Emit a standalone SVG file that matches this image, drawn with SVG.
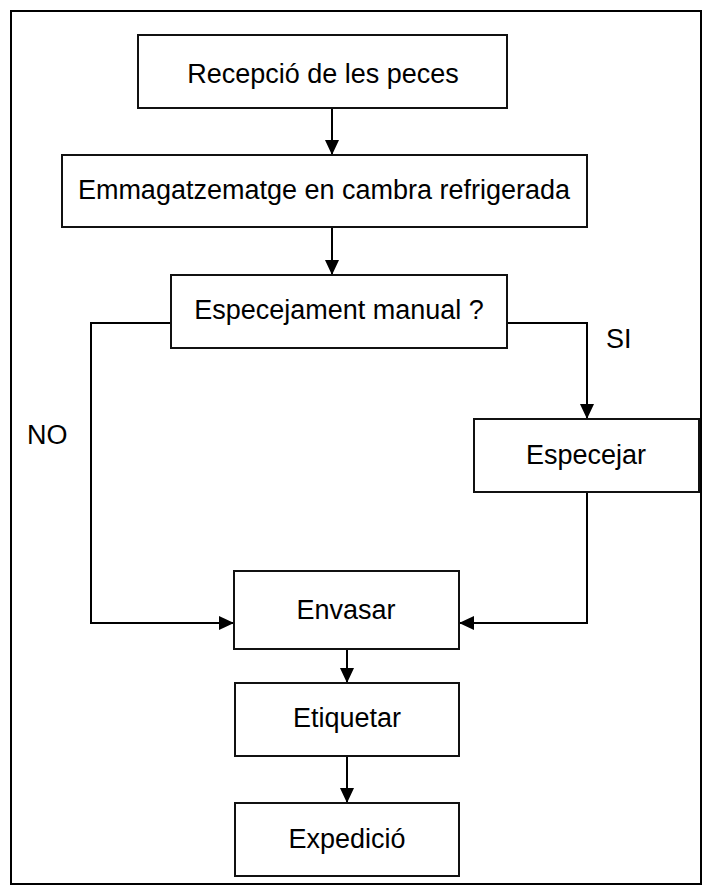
<svg xmlns="http://www.w3.org/2000/svg" width="704" height="893" viewBox="0 0 704 893">
  <defs>
    <marker id="arrow" markerUnits="userSpaceOnUse" markerWidth="16" markerHeight="16" viewBox="0 0 16 16" refX="15" refY="8" orient="auto">
      <path d="M0,1 L15,8 L0,15 Z" fill="#000"/>
    </marker>
    <style>
      .frame { fill: #fff; stroke: #000; stroke-width: 2; }
      .box { fill: #fff; stroke: #111; stroke-width: 2; }
      .label { font-family: "Liberation Sans", Arial, sans-serif; font-size: 27px; fill: #000; text-anchor: middle; }
      .tag { font-family: "Liberation Sans", Arial, sans-serif; font-size: 27px; fill: #000; }
      .conn { fill: none; stroke: #000; stroke-width: 2; }
      .conn-arrow { fill: none; stroke: #000; stroke-width: 2; marker-end: url(#arrow); }
    </style>
  </defs>

  <!-- page frame -->
  <rect class="frame" x="11" y="11" width="690" height="873"/>

  <!-- connectors -->
  <g id="connectors">
    <path class="conn-arrow" d="M332,108 L332,155"/>
    <path class="conn-arrow" d="M332,227 L332,275"/>
    <path class="conn-arrow" d="M171,323 L91,323 L91,623 L234,623"/>
    <path class="conn-arrow" d="M507,323 L587,323 L587,419"/>
    <path class="conn-arrow" d="M587,492 L587,623 L459,623"/>
    <path class="conn-arrow" d="M347,649 L347,683"/>
    <path class="conn-arrow" d="M347,756 L347,803"/>
    <text class="tag" x="27" y="444">NO</text>
    <text class="tag" x="606" y="348">SI</text>
  </g>

  <g id="recepcio">
    <rect class="box" x="138" y="35" width="369" height="73"/>
    <text class="label" x="323" y="83">Recepció de les peces</text>
  </g>

  <g id="emmagatzematge">
    <rect class="box" x="62" y="155" width="525" height="72"/>
    <text class="label" x="324" y="199">Emmagatzematge en cambra refrigerada</text>
  </g>

  <g id="especejament">
    <rect class="box" x="171" y="275" width="336" height="73"/>
    <text class="label" x="339" y="319">Especejament manual ?</text>
  </g>

  <g id="especejar">
    <rect class="box" x="474" y="419" width="225" height="73"/>
    <text class="label" x="586" y="464">Especejar</text>
  </g>

  <g id="envasar">
    <rect class="box" x="234" y="571" width="225" height="78"/>
    <text class="label" x="346" y="619">Envasar</text>
  </g>

  <g id="etiquetar">
    <rect class="box" x="235" y="683" width="224" height="73"/>
    <text class="label" x="347" y="727">Etiquetar</text>
  </g>

  <g id="expedicio">
    <rect class="box" x="235" y="803" width="224" height="73"/>
    <text class="label" x="347" y="848">Expedició</text>
  </g>
</svg>
